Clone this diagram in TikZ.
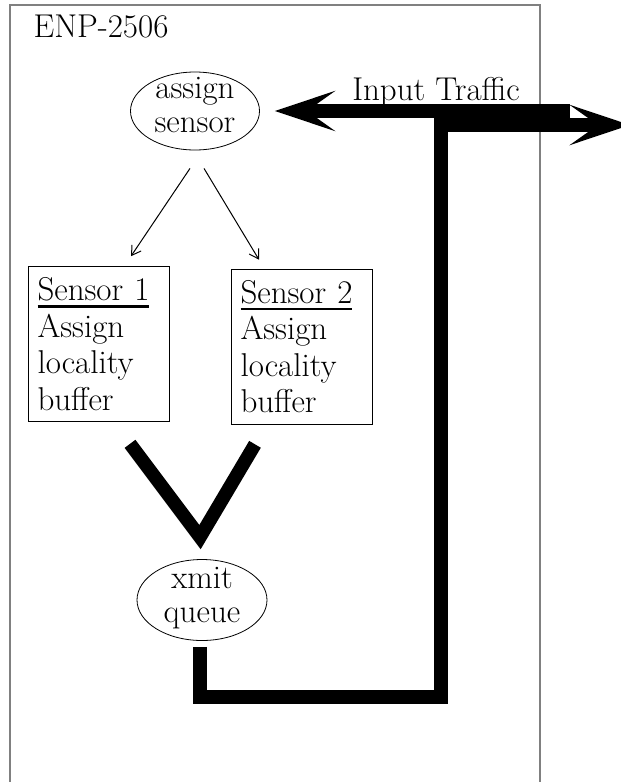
\documentclass[tikz,border=0pt]{standalone}
\usepackage{fontspec}
\usepackage{tikz}
\usetikzlibrary{arrows.meta,positioning,shapes.geometric,calc}

% heavier underline for the sensor titles
\newcommand{\sensorhead}[1]{\setbox0\hbox{#1}\rlap{\rule[-7pt]{\wd0}{2.5pt}}\box0}

\begin{document}
\begin{tikzpicture}[x=1pt, y=-1pt, >={Straight Barb[length=9pt,width=11pt]}, font=\fontsize{33}{36.5}\selectfont]
        \tikzset{sensorbox/.style={rectangle, draw, line width=0.8pt, align=left, text width=123pt, inner xsep=9pt, inner ysep=11pt}, stage/.style={ellipse, draw, line width=0.8pt, align=center, inner sep=0pt, font=\fontsize{33}{34}\selectfont}, fatline/.style={line width=13.5pt}, fatarrow/.style={line width=13.5pt, -{Stealth[length=60pt,width=40pt,inset=28pt]}}}
        \useasboundingbox (0,0) rectangle (621,782);
        \draw[gray, line width=1.2pt] (10,5) rectangle (540,800);
        \node[anchor=base west] (enp) at (30,37) {ENP-2506};
        \node[stage, minimum width=129pt, minimum height=78pt, text height=48.5pt, text depth=6.5pt] (asg) at (195,111) {assign\\sensor};
        \node[sensorbox] (s1) at (99,344) {\sensorhead{Sensor 1}\\Assign\\locality\\buffer};
        \node[sensorbox] (s2) at (302,346.5) {\sensorhead{Sensor 2}\\Assign\\locality\\buffer};
        \node[stage, minimum width=130pt, minimum height=81pt, text height=50pt, text depth=6pt] (xq) at (202,600) {xmit\\queue};
        \node[anchor=base] (trf) at (436,100) {Input Traffic};
        \coordinate (inR) at (570,111);
        \coordinate (turn) at (441,697);
        \coordinate (outR) at (630,125);
        \draw[->, line width=1pt] ([xshift=-5pt,yshift=-18pt]asg.south) -- ([xshift=32pt,yshift=10pt]s1.north);
        \draw[->, line width=1pt] ([xshift=9pt,yshift=-18pt]asg.south) -- ([xshift=-43pt,yshift=9pt]s2.north);
        \draw[fatline] ([xshift=31pt,yshift=-22pt]s1.south) -- ([xshift=-2pt,yshift=22pt]xq.north) -- ([xshift=-47pt,yshift=-20pt]s2.south);
        \draw[fatarrow] (inR) -- ([xshift=15pt]asg.east);
        \draw[fatarrow] ([xshift=-2pt,yshift=-6pt]xq.south) |- (turn) |- (outR);
    \end{tikzpicture}
\end{document}
